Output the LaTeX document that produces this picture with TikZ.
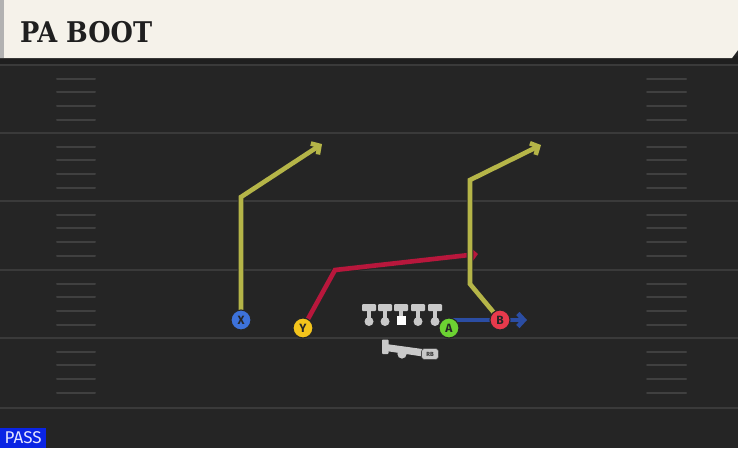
\documentclass[tikz,border=0pt]{standalone}
\usepackage{fontspec}
\setmainfont{DejaVu Serif}
\newfontfamily\titlefont{DejaVu Serif Condensed}
\newfontfamily\labelfont{Fira Sans}
\usetikzlibrary{arrows.meta}
\definecolor{field}{HTML}{252525}
\definecolor{yardline}{HTML}{3A3A3A}
\definecolor{hashc}{HTML}{404040}
\definecolor{cream}{HTML}{F5F2EA}
\definecolor{routeY}{HTML}{B5B548}
\definecolor{routeR}{HTML}{B8173C}
\definecolor{routeB}{HTML}{2B4DA3}
\definecolor{pX}{HTML}{3D72DA}
\definecolor{pY}{HTML}{F3C41C}
\definecolor{pA}{HTML}{6CD232}
\definecolor{pB}{HTML}{E83A4C}
\definecolor{lineman}{HTML}{C9C9C9}
\definecolor{passblue}{HTML}{0A24E4}
\tikzset{
  player/.style={circle,draw=black!85,line width=1.1pt,minimum size=20pt,inner sep=0pt,
    font=\labelfont\bfseries\fontsize{12}{12}\selectfont,text=black!85},
  routeout/.style={line width=6.6pt,draw=black!85,line join=miter,
    -{Straight Barb[length=6.5pt,width=15pt]}},
  routein/.style={line width=4.6pt,line join=miter,
    -{Straight Barb[length=6pt,width=13pt]}},
  yard/.style={draw=yardline,line width=2.2pt},
  hashm/.style={draw=hashc,line width=2pt,line cap=round},
  lm/.style={fill=lineman},
}
\begin{document}
\begin{tikzpicture}[x=1pt,y=-1pt]
\useasboundingbox (0,0) rectangle (738,448);
% field
\fill[field] (0,0) rectangle (738,448);
% yard lines
\foreach \yy in {65,133,201,270,338,408} \draw[yard] (0,\yy) -- (738,\yy);
% hashes
\foreach \base in {65,133,201,270,338} {
  \foreach \k in {1,2,3,4} {
    \draw[hashm] (57,{\base+13.7*\k}) -- (95,{\base+13.7*\k});
    \draw[hashm] (647,{\base+13.7*\k}) -- (686,{\base+13.7*\k});
  }
}
% title bar
\fill[black!88] (0,56) rectangle (738,64);
\fill[cream] (0,0) -- (738,0) -- (738,50) -- (732,58) -- (0,58) -- cycle;
\fill[black!30] (0,0) rectangle (4,58);
\node[anchor=west,inner sep=0pt,text=black!88] (title) at (20,32)
  {\titlefont\bfseries\fontsize{28.5}{28.5}\selectfont PA BOOT};
% coordinates
\coordinate (px) at (241,320);
\coordinate (py) at (303,328);
\coordinate (pa) at (449,328);
\coordinate (pb) at (500,320);
\coordinate (xc) at (241,197);
\coordinate (xe) at (322,144);
\coordinate (yc) at (335,270);
\coordinate (ye) at (478,254);
\coordinate (bc1) at (470,284);
\coordinate (bc2) at (470,180);
\coordinate (be) at (541,145);
\coordinate (as) at (446,320);
\coordinate (ae) at (527,320);
% routes (outline + colour)
\draw[routeout] (px) -- (xc) -- (xe);
\draw[routein,draw=routeY] (px) -- (xc) -- (xe);
\draw[routeout] (py) -- (yc) -- (ye);
\draw[routein,draw=routeR] (py) -- (yc) -- (ye);
\draw[routeout] (pb) -- (bc1) -- (bc2) -- (be);
\draw[routein,draw=routeY] (pb) -- (bc1) -- (bc2) -- (be);
\draw[routeout] (as) -- (ae);
\draw[routein,draw=routeB] (as) -- (ae);
% offensive line
\foreach \lx in {369,385,418,435} {
  \fill[lm,rounded corners=1pt] (\lx-7,304) rectangle (\lx+7,311);
  \fill[lm] (\lx-2.3,310) rectangle (\lx+2.3,320);
  \fill[lm] (\lx,321.5) circle (4.5);
}
\fill[lm,rounded corners=1pt] (394,304) rectangle (408,311);
\fill[lm] (398.7,310) rectangle (403.3,316);
\fill[white] (396.5,315.5) rectangle (405.5,324.5);
% running back
\fill[lm,rounded corners=0.8pt] (382,339.5) rectangle (388.5,354);
\fill[lm] (386,344) -- (426,349.5) -- (426,357) -- (386,351) -- cycle;
\fill[lm] (402,354) circle (4.6);
\node[fill=lineman,draw=black!70,line width=0.6pt,rounded corners=3pt,minimum width=17pt,minimum height=11pt,inner sep=0pt,
  font=\labelfont\bfseries\fontsize{6}{6}\selectfont,text=black!80] (rb) at (430,354) {RB};
% players
\node[player,fill=pX] (X) at (px) {X};
\node[player,fill=pY] (Y) at (py) {Y};
\node[player,fill=pA] (A) at (pa) {A};
\node[player,fill=pB] (B) at (pb) {B};
% pass label
\node[fill=passblue,anchor=south west,minimum width=46pt,minimum height=20pt,inner sep=0pt,
  font=\labelfont\fontsize{17}{17}\selectfont,text=white!90!blue] (pass) at (0,448) {PASS};
\end{tikzpicture}
\end{document}
